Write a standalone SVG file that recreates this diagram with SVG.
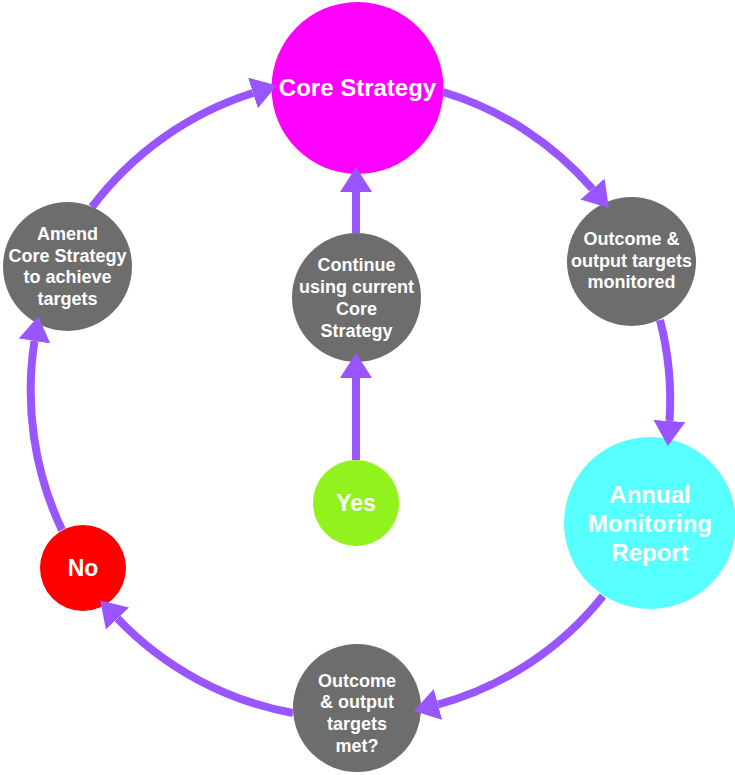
<svg xmlns="http://www.w3.org/2000/svg" width="735" height="775" viewBox="0 0 735 775">
<style>
  text { font-family: "Liberation Sans", Arial, sans-serif; font-weight: bold; fill: #ffffff; text-anchor: middle; }
  .gray { fill: #6d6d6d; }
  .sm { font-size: 18px; }
  .lg { font-size: 24px; }
  .md { font-size: 23px; }
  .conn { fill: none; stroke: #9955ff; stroke-width: 8; marker-end: url(#arrow); }
</style>
<defs>
  <marker id="arrow" viewBox="0 0 25 32" refX="0" refY="16" markerWidth="25" markerHeight="32" markerUnits="userSpaceOnUse" orient="auto">
    <path d="M0,0 L25,16 L0,32 z" fill="#9955ff"/>
  </marker>
</defs>
<g id="core">
  <circle cx="357.5" cy="88" r="86" fill="#ff00ff"/>
  <text class="lg" x="357.5" y="96">Core Strategy</text>
</g>
<g id="monitored">
  <circle class="gray" cx="631.5" cy="261.5" r="64.5"/>
  <text class="sm" x="631.5" y="245">Outcome &amp;</text>
  <text class="sm" x="631.5" y="267">output targets</text>
  <text class="sm" x="631.5" y="288">monitored</text>
</g>
<g id="annual">
  <circle cx="650" cy="523" r="86" fill="#57ffff"/>
  <text class="lg" x="650" y="503">Annual</text>
  <text class="lg" x="650" y="532">Monitoring</text>
  <text class="lg" x="650" y="561">Report</text>
</g>
<g id="met">
  <circle class="gray" cx="357" cy="708" r="64"/>
  <text class="sm" x="357" y="687">Outcome</text>
  <text class="sm" x="357" y="708">&amp; output</text>
  <text class="sm" x="357" y="730">targets</text>
  <text class="sm" x="357" y="752">met?</text>
</g>
<g id="no">
  <circle cx="83" cy="568" r="43" fill="#ff0000"/>
  <text class="md" x="83" y="576">No</text>
</g>
<g id="amend">
  <circle class="gray" cx="67.5" cy="266.5" r="64.5"/>
  <text class="sm" x="67.5" y="240">Amend</text>
  <text class="sm" x="67.5" y="262">Core Strategy</text>
  <text class="sm" x="67.5" y="283">to achieve</text>
  <text class="sm" x="67.5" y="305">targets</text>
</g>
<g id="continue">
  <circle class="gray" cx="356.5" cy="297.5" r="64.5"/>
  <text class="sm" x="356.5" y="271">Continue</text>
  <text class="sm" x="356.5" y="293">using current</text>
  <text class="sm" x="356.5" y="315">Core</text>
  <text class="sm" x="356.5" y="337">Strategy</text>
</g>
<g id="yes">
  <circle cx="356" cy="503" r="43" fill="#92f21d"/>
  <text class="md" x="356" y="511">Yes</text>
</g>
<g id="connectors">
  <path class="conn" d="M443,92 A318,318 0 0 1 592.5,189"/>
  <path class="conn" d="M660,320 A318,318 0 0 1 669.5,421"/>
  <path class="conn" d="M603,596 A318,318 0 0 1 438,704.5"/>
  <path class="conn" d="M293,713 A322,322 0 0 1 117.5,618.5"/>
  <path class="conn" d="M62,530 A325,325 0 0 1 34.5,341"/>
  <path class="conn" d="M92,207 A324,324 0 0 1 253,93"/>
  <path class="conn" d="M356,460 L356,378"/>
  <path class="conn" d="M356,233 L356,192"/>
</g>
</svg>
